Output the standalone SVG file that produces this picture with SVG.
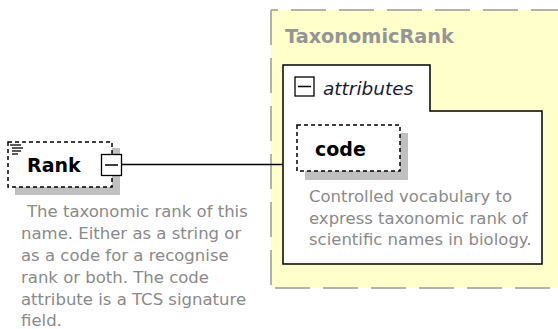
<svg xmlns="http://www.w3.org/2000/svg" width="558" height="329" viewBox="0 0 558 329">
<style>
.lbl{font-family:"DejaVu Sans",Verdana,sans-serif;font-weight:bold;font-size:19px;fill:#000}
.desc{font-family:"DejaVu Sans",Verdana,sans-serif;font-size:16.5px;fill:#8a8a8a}
.dash{fill:#fff;stroke:#000;stroke-width:1.5;stroke-dasharray:4,3}
.shadow{fill:#c0c0c0}
.minus{fill:#fff;stroke:#000;stroke-width:1.3}
.ydash{stroke:#999;stroke-width:1.5;stroke-dasharray:35,13;fill:none}
</style>
<rect width="558" height="329" fill="#fff"/>
<g id="TaxonomicRank">
  <rect x="271" y="10" width="300" height="278" fill="#ffffcc"/>
  <line x1="271" y1="10" x2="558" y2="10" class="ydash" stroke-dashoffset="28"/>
  <line x1="271" y1="10" x2="271" y2="288" class="ydash"/>
  <line x1="271" y1="288" x2="558" y2="288" class="ydash" stroke-dashoffset="44"/>
  <text x="285" y="43" style="font-family:'DejaVu Sans',Verdana,sans-serif;font-weight:bold;font-size:19.3px;fill:#959595">TaxonomicRank</text>
</g>
<g id="attributes">
  <path d="M283,65 H430 V111 H542 V264 H283 Z" fill="#fff" stroke="#000" stroke-width="1.5"/>
  <rect x="295" y="77" width="19" height="19" class="minus"/>
  <line x1="298" y1="86.5" x2="311" y2="86.5" stroke="#000" stroke-width="1.5"/>
  <text x="323" y="95" style="font-family:'DejaVu Sans',Verdana,sans-serif;font-style:italic;font-size:18.5px;fill:#1a1a3a">attributes</text>
</g>
<g id="code">
  <rect x="305" y="133" width="103" height="47" class="shadow"/>
  <rect x="297" y="125" width="103" height="46" class="dash"/>
  <text x="315" y="156" class="lbl">code</text>
  <text class="desc"><tspan x="309" y="202">Controlled vocabulary to</tspan><tspan x="309" y="223.7">express taxonomic rank of</tspan><tspan x="309" y="245.4">scientific names in biology.</tspan></text>
</g>
<g id="connectors">
  <line x1="122" y1="164.5" x2="283" y2="164.5" stroke="#000" stroke-width="1.5"/>
</g>
<g id="Rank">
  <rect x="15" y="148" width="105" height="47" class="shadow"/>
  <rect x="8" y="142" width="104" height="45" class="dash"/>
  <g stroke="#000" stroke-width="1.3">
    <line x1="10" y1="145" x2="21" y2="145"/>
    <line x1="12" y1="148" x2="23" y2="148"/>
    <line x1="12" y1="151" x2="21" y2="151"/>
    <line x1="12" y1="154" x2="18" y2="154"/>
  </g>
  <text x="27" y="172" class="lbl">Rank</text>
  <rect x="101.5" y="154.5" width="20" height="21" class="minus"/>
  <line x1="105" y1="165" x2="118" y2="165" stroke="#000" stroke-width="1.5"/>
  <text class="desc"><tspan x="27" y="217">The taxonomic rank of this</tspan><tspan x="21" y="239">name. Either as a string or</tspan><tspan x="21" y="261">as a code for a recognise</tspan><tspan x="21" y="283">rank or both. The code</tspan><tspan x="21" y="305">attribute is a TCS signature</tspan><tspan x="21" y="326">field.</tspan></text>
</g>
</svg>
